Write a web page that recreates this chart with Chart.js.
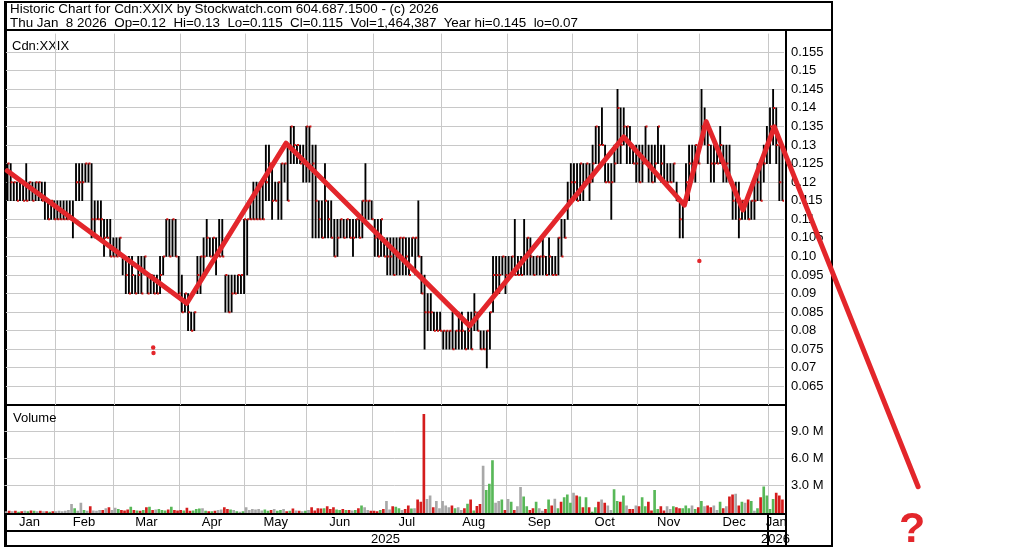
<!DOCTYPE html>
<html>
<head>
<meta charset="utf-8">
<script src="https://cdn.jsdelivr.net/npm/chart.js@4.4.1/dist/chart.umd.min.js"></script>
<style>
html,body{margin:0;padding:0;background:#fff}
body{width:1034px;height:551px;position:relative;overflow:hidden;font-family:"Liberation Sans",Arial,sans-serif;color:#000}
.box{position:absolute;box-sizing:border-box}
.ln{position:absolute;background:#000;z-index:2}
.txt{position:absolute;font-size:13px;line-height:13px;white-space:pre;z-index:2}
.ttl{font-size:13.4px;line-height:13.4px}
canvas{position:absolute;left:0;top:0}
#vol{z-index:1}
#price{z-index:3}
#q{position:absolute;left:899px;top:506px;font:bold 43px/43px "Liberation Sans",Arial,sans-serif;color:#e3262b;z-index:4}
</style>
</head>
<body>
<div class="box" style="left:4px;top:1px;width:829px;height:546px;border:2px solid #000;border-left-width:3px"></div>
<div class="ln" style="left:4px;top:29px;width:829px;height:2px"></div>
<div class="ln" style="left:4px;top:404px;width:783px;height:2px"></div>
<div class="ln" style="left:4px;top:513px;width:783px;height:2px"></div>
<div class="ln" style="left:4px;top:530px;width:783px;height:2px"></div>
<div class="ln" style="left:785px;top:31px;width:2px;height:514px"></div>
<div class="ln" style="left:767px;top:515px;width:2px;height:30px"></div>
<div class="box" style="left:787px;top:515px;width:44px;height:15px;background:#fff;z-index:2"></div>

<div class="txt ttl" style="left:10px;top:2px">Historic Chart for Cdn:XXIX by Stockwatch.com 604.687.1500 - (c) 2026</div>
<div class="txt ttl" style="left:10px;top:15.5px">Thu Jan  8 2026  Op=0.12  Hi=0.13  Lo=0.115  Cl=0.115  Vol=1,464,387  Year hi=0.145  lo=0.07</div>
<div class="txt" style="left:12px;top:39px">Cdn:XXIX</div>
<div class="txt" style="left:13px;top:411px">Volume</div>
<div class="txt" style="left:371px;top:532px">2025</div>
<div class="txt" style="left:761px;top:532px">2026</div>
<div id="q">?</div>

<canvas id="vol" width="1034" height="551"></canvas>
<canvas id="price" width="1034" height="551"></canvas>

<script>
// trading days shown per month
const monthLabels = ['Jan','Feb','Mar','Apr','May','Jun','Jul','Aug','Sep','Oct','Nov','Dec','Jan'];
const monthDays = [16,19,21,21,20,21,22,21,21,21,20,22,5];

const highs = [
  .125,.125,.12,.12,.12,.12,.125,.12,.12,.12,.12,.12,.12,.115,.115,.115,
  .115,.115,.115,.115,.115,.115,.125,.125,.125,.125,.125,.125,.115,.115,.115,.11,.11,.11,.105,
  .105,.105,.10,.10,.10,.10,.095,.10,.10,.10,.095,.095,.095,.095,.10,.10,.11,.11,.11,.11,.10,
  .095,.09,.09,.085,.085,.10,.10,.105,.11,.105,.105,.105,.11,.11,.095,.095,.095,.095,.095,.095,.11,
  .11,.115,.12,.12,.12,.12,.13,.13,.125,.12,.12,.125,.125,.13,.135,.135,.13,.13,.13,.135,
  .135,.13,.13,.115,.115,.125,.115,.115,.11,.11,.11,.11,.11,.11,.11,.11,.11,.115,.125,.115,.115,
  .11,.11,.11,.105,.105,.105,.105,.105,.105,.105,.105,.105,.105,.105,.115,.10,.095,.09,.09,.085,.085,.085,
  .08,.08,.08,.085,.08,.085,.085,.08,.085,.085,.09,.085,.08,.08,.08,.085,.10,.10,.10,.10,.10,
  .10,.10,.11,.10,.10,.11,.105,.105,.10,.10,.10,.105,.10,.105,.10,.10,.105,.11,.11,.12,.125,
  .125,.125,.125,.125,.125,.125,.13,.135,.135,.14,.13,.125,.125,.13,.145,.14,.14,.135,.135,.13,.13,
  .13,.13,.135,.13,.13,.13,.135,.13,.13,.125,.125,.125,.12,.115,.115,.125,.13,.13,.13,.13,
  .145,.14,.135,.13,.13,.13,.135,.13,.13,.13,.12,.12,.12,.115,.115,.115,.115,.12,.125,.125,.13,.135,
  .14,.145,.14,.13,.13
];
const lows = [
  .115,.115,.115,.115,.115,.115,.115,.115,.115,.115,.115,.115,.11,.11,.11,.11,
  .11,.11,.11,.11,.11,.105,.115,.115,.115,.12,.12,.105,.105,.11,.105,.10,.105,.10,.10,
  .10,.10,.095,.09,.09,.09,.09,.09,.09,.095,.09,.09,.09,.09,.09,.095,.10,.10,.10,.10,.09,
  .085,.085,.08,.08,.08,.09,.09,.095,.10,.10,.10,.095,.10,.10,.085,.085,.085,.09,.09,.09,.09,
  .095,.11,.11,.11,.11,.11,.115,.115,.11,.115,.11,.11,.12,.115,.125,.125,.125,.125,.12,.12,
  .12,.105,.105,.105,.105,.105,.105,.105,.10,.10,.105,.105,.105,.105,.10,.105,.105,.105,.11,.11,.11,
  .10,.10,.10,.10,.095,.095,.095,.095,.095,.095,.095,.095,.10,.095,.10,.09,.075,.08,.08,.08,.08,.08,
  .075,.075,.075,.075,.075,.075,.075,.075,.075,.075,.08,.08,.075,.075,.07,.075,.085,.09,.09,.095,.09,
  .095,.095,.095,.095,.095,.095,.095,.095,.095,.095,.095,.095,.095,.095,.095,.095,.095,.10,.105,.11,.115,
  .115,.115,.115,.115,.12,.115,.12,.125,.125,.13,.12,.12,.11,.12,.125,.125,.13,.125,.125,.125,.12,
  .12,.12,.125,.12,.12,.12,.125,.12,.12,.12,.12,.12,.115,.105,.105,.115,.115,.12,.12,.125,
  .13,.13,.125,.12,.12,.125,.125,.12,.12,.12,.11,.11,.105,.11,.11,.11,.11,.11,.115,.115,.12,.125,
  .125,.13,.125,.115,.115
];
const closes = [
  .125,.12,.12,.115,.12,.115,.115,.12,.115,.12,.12,.115,.115,.11,.115,.11,
  .11,.11,.11,.11,.11,.11,.12,.12,.12,.125,.125,.11,.11,.11,.11,.105,.105,.10,.10,
  .10,.105,.10,.095,.09,.095,.09,.095,.09,.10,.09,.095,.09,.09,.095,.10,.11,.10,.11,.10,.09,
  .085,.09,.085,.08,.085,.095,.10,.10,.105,.10,.105,.10,.10,.10,.095,.085,.09,.09,.095,.095,.11,
  .11,.11,.11,.11,.11,.11,.12,.125,.115,.115,.12,.125,.125,.115,.135,.13,.13,.125,.125,.135,
  .135,.125,.115,.11,.105,.115,.11,.105,.10,.105,.11,.105,.11,.105,.105,.11,.105,.115,.115,.115,.11,
  .105,.10,.11,.10,.10,.10,.095,.10,.105,.105,.10,.095,.105,.105,.10,.09,.085,.085,.085,.08,.08,.08,
  .08,.08,.08,.075,.08,.08,.08,.075,.08,.075,.085,.08,.075,.075,.08,.085,.095,.095,.095,.10,.095,
  .095,.10,.095,.095,.095,.10,.105,.10,.095,.10,.10,.10,.095,.10,.095,.095,.105,.10,.105,.115,.12,
  .12,.115,.125,.12,.125,.12,.125,.135,.13,.13,.12,.12,.12,.125,.14,.13,.135,.135,.13,.125,.125,
  .12,.125,.135,.125,.12,.125,.135,.125,.12,.12,.12,.125,.115,.11,.115,.12,.125,.125,.13,.125,
  .135,.135,.13,.125,.125,.125,.13,.125,.125,.12,.115,.115,.11,.115,.115,.11,.115,.115,.12,.115,.125,.13,
  .135,.14,.13,.12,.115
];
// volume in millions of shares
const volumes = [
  0.15,0.2,0.15,0.2,0.1,0.15,0.2,0.15,0.25,0.2,0.15,0.2,0.15,0.15,0.1,0.15,
  0.15,0.2,0.15,0.2,0.3,0.95,0.5,0.2,1.1,0.3,0.2,0.7,0.25,0.2,0.3,0.3,0.5,0.6,0.3,
  0.55,0.4,0.3,0.25,0.35,0.65,0.3,0.25,0.2,0.3,0.6,0.65,0.3,0.35,0.4,0.3,0.25,0.35,0.65,0.3,0.25,
  0.3,0.25,0.55,0.2,0.25,0.4,0.45,0.5,0.2,0.15,0.15,0.2,0.3,0.35,0.6,0.4,0.35,0.3,0.15,0.1,0.15,
  0.6,0.3,0.4,0.35,0.4,0.25,0.35,0.2,0.3,0.4,0.2,0.3,0.4,0.15,0.2,0.45,0.25,0.2,0.15,0.2,
  0.3,0.6,0.25,0.5,0.45,0.5,0.7,0.4,0.6,0.35,0.3,0.4,0.3,0.3,0.25,0.3,0.5,0.8,0.6,0.3,0.2,
  0.2,0.15,0.3,0.4,1.3,0.35,0.7,0.65,0.5,0.3,0.4,0.8,0.45,0.5,1.45,1.2,10.9,1.5,1.9,0.6,1.3,0.5,
  1.3,0.8,0.6,0.8,0.5,0.6,0.3,0.5,1.0,1.45,0.25,0.75,0.95,5.2,2.5,3.2,5.8,1.1,1.3,1.45,0.3,
  1.5,1.2,0.3,0.7,2.85,1.8,0.7,0.3,0.5,1.2,0.5,0.2,0.4,1.45,0.8,1.55,0.5,1.2,1.7,2.0,1.1,
  2.2,1.9,1.8,0.6,1.7,0.6,0.1,0.6,1.2,1.45,1.1,0.8,0.3,2.6,1.3,1.2,1.9,0.8,0.4,0.4,0.8,
  0.7,1.7,0.7,1.2,0.25,2.5,0.4,0.7,0.25,0.7,0.4,0.7,0.6,0.5,0.5,0.8,0.5,0.8,0.4,0.6,
  1.3,0.7,0.8,0.6,0.8,0.3,1.2,0.5,0.7,1.8,2.0,2.1,0.8,1.2,1.1,1.45,1.3,0.2,0.5,1.7,2.9,1.9,
  0.4,1.5,2.2,1.9,1.46
];

// hand-drawn trend line (trading day index, price) and the two red dots
const zigDay   = [-0.1, 57.6, 89.5, 148.5, 198.0, 217.5, 224.5, 236.3, 246.4, 292.6];
const zigPrice = [0.1231, 0.0874, 0.1305, 0.0813, 0.1322, 0.1138, 0.1363, 0.1125, 0.1349, 0.0380];
const dotDay   = [46.8, 46.9, 222.3];
const dotPrice = [0.0755, 0.0740, 0.0988];

const priceTicks = [0.065,0.07,0.075,0.08,0.085,0.09,0.095,0.10,0.105,0.11,0.115,0.12,0.125,0.13,0.135,0.14,0.145,0.15,0.155];
const priceTickLabels = ['0.065','0.07','0.075','0.08','0.085','0.09','0.095','0.10','0.105','0.11','0.115','0.12','0.125','0.13','0.135','0.14','0.145','0.15','0.155'];
const volTicks = [3,6,9];
const volTickLabels = ['3.0 M','6.0 M','9.0 M'];

Chart.defaults.font.family = '"Liberation Sans", Arial, sans-serif';
Chart.defaults.font.size = 13;
Chart.defaults.color = '#000';

const N = highs.length;
const monthStart = [];
let acc = 0;
monthDays.forEach(n => { monthStart.push(acc); acc += n; });
const monthBounds = monthStart.slice(1).map(v => v - 0.5);
const monthMids = monthStart.map((s, k) => s + monthDays[k] / 2 - 0.5);

const GRID = '#c8c8c8';
const RED = '#e3262b';

const volColors = volumes.map((v, i) => {
  if (i === 0 || closes[i] === closes[i-1]) return '#a8a8a8';
  return closes[i] > closes[i-1] ? '#58b858' : '#d41c1c';
});

const common = {
  responsive: false, animation: false, devicePixelRatio: 1, events: [],
  plugins: { legend: { display: false }, tooltip: { enabled: false } }
};

function gridX(extra) {
  return Object.assign({
    type: 'linear', min: -0.5, max: N - 0.5, offset: false,
    grid: { color: GRID, offset: false, drawTicks: false },
    border: { display: false },
    ticks: { display: false },
    afterBuildTicks: s => { s.ticks = monthBounds.map(v => ({ value: v })); },
    afterFit: s => { s.height = 0; }
  }, extra || {});
}

new Chart(document.getElementById('vol'), {
  type: 'bar',
  data: {
    datasets: [{
      data: volumes.map((v, i) => ({ x: i, y: v })),
      backgroundColor: volColors,
      barThickness: 2,
      xAxisID: 'x', yAxisID: 'y'
    }]
  },
  options: Object.assign({}, common, {
    layout: { padding: { left: 4.5, top: 406.3, right: 202, bottom: 21 } },
    scales: {
      x: gridX(),
      x2: {
        type: 'linear', position: 'bottom', min: -0.5, max: N - 0.5, offset: false,
        grid: { display: false, drawTicks: false },
        border: { display: false },
        ticks: { autoSkip: false, maxRotation: 0, padding: 2, font: { size: 13 },
          callback: (v, i) => monthLabels[i] },
        afterBuildTicks: s => { s.ticks = monthMids.map(v => ({ value: v })); },
        afterFit: s => { s.height = 17; }
      },
      y: {
        type: 'linear', position: 'right', min: 0, max: 11.8,
        grid: { color: GRID, drawTicks: false },
        border: { display: false },
        ticks: { padding: 7, autoSkip: false, callback: (v, i) => volTickLabels[i] },
        afterBuildTicks: s => { s.ticks = volTicks.map(v => ({ value: v })); },
        afterFit: s => { s.width = 48; }
      }
    }
  })
});

new Chart(document.getElementById('price'), {
  type: 'bar',
  data: {
    datasets: [
      {
        type: 'line',
        data: zigDay.map((d, i) => ({ x: d, y: zigPrice[i] })),
        borderColor: RED, borderWidth: 5, pointRadius: 0,
        borderCapStyle: 'round', borderJoinStyle: 'round',
        tension: 0, clip: false, order: 0
      },
      {
        type: 'line',
        data: dotDay.map((d, i) => ({ x: d, y: dotPrice[i] })),
        showLine: false, pointRadius: 2.2, pointBackgroundColor: RED,
        pointBorderWidth: 0, order: 1
      },
      {
        type: 'line',
        data: closes.map((c, i) => ({ x: i, y: c })),
        showLine: false, pointStyle: 'dash', pointRadius: 2,
        pointBorderColor: '#cc1111', pointBorderWidth: 2, order: 2
      },
      {
        type: 'bar',
        data: highs.map((h, i) => ({ x: i, y: [lows[i], h] })),
        backgroundColor: '#000', barThickness: 1.2, order: 3
      }
    ]
  },
  options: Object.assign({}, common, {
    layout: { padding: { left: 4.5, top: 33.6, right: 202, bottom: 146 } },
    scales: {
      x: gridX(),
      y: {
        type: 'linear', position: 'right', min: 0.06, max: 0.16,
        grid: { color: GRID, drawTicks: false },
        border: { display: false },
        ticks: { padding: 7, autoSkip: false, callback: (v, i) => priceTickLabels[i] },
        afterBuildTicks: s => { s.ticks = priceTicks.map(v => ({ value: v })); },
        afterFit: s => { s.width = 48; }
      }
    }
  })
});
</script>
</body>
</html>
